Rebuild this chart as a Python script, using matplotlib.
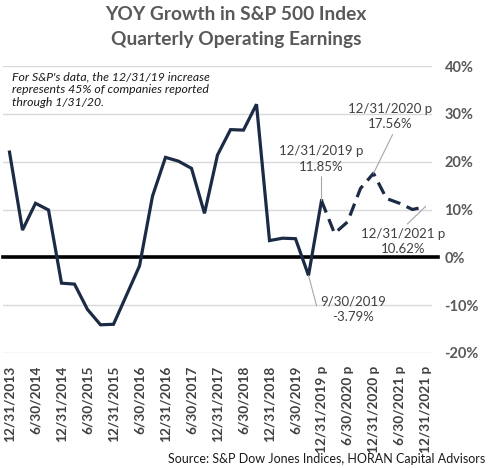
import matplotlib
matplotlib.use("Agg")
import matplotlib.pyplot as plt
import numpy as np

plt.rcParams['font.family'] = ['Lato', 'DejaVu Sans']

quarters = ["12/31/2013", "3/31/2014", "6/30/2014", "9/30/2014", "12/31/2014",
            "3/31/2015", "6/30/2015", "9/30/2015", "12/31/2015", "3/31/2016",
            "6/30/2016", "9/30/2016", "12/31/2016", "3/31/2017", "6/30/2017",
            "9/30/2017", "12/31/2017", "3/31/2018", "6/30/2018", "9/30/2018",
            "12/31/2018", "3/31/2019", "6/30/2019", "9/30/2019", "12/31/2019 p",
            "3/31/2020 p", "6/30/2020 p", "9/30/2020 p", "12/31/2020 p",
            "3/31/2021 p", "6/30/2021 p", "9/30/2021 p", "12/31/2021 p"]
growth = [22.0, 5.7, 11.3, 9.9, -5.4, -5.6, -10.9, -14.1, -14.0, -7.9, -1.8,
          12.8, 20.9, 20.1, 18.6, 9.2, 21.4, 26.7, 26.6, 32.0, 3.5, 4.0, 3.9,
          -3.79, 11.85, 5.0, 7.4, 14.4, 17.56, 12.3, 11.3, 10.0, 10.62]
n_actual = 25  # through 12/31/2019 p solid
yticks = [-20, -10, 0, 10, 20, 30, 40]
ytick_labels = ["-20%", "-10%", "0%", "10%", "20%", "30%", "40%"]
tick_idx = list(range(0, len(quarters), 2))

annot = [
    (24, "12/31/2019 p\n11.85%", (24.0, 20.6), (0.5, 0.0), "arc3"),
    (28, "12/31/2020 p\n17.56%", (29.3, 29.4), (0.55, 0.0), "arc3"),
    (32, "12/31/2021 p\n10.62%", (30.3, 3.3), (0.5, 1.0), "arc3"),
    (23, "9/30/2019\n-3.79%", (26.4, -10.8), (0.0, 0.5), "angle,angleA=0,angleB=105,rad=0"),
]

W, H = 495, 468
fig = plt.figure(figsize=(W / 100, H / 100), dpi=100)
ax = fig.add_axes([3 / W, (H - 353) / H, (432 - 3) / W, (353 - 66) / H])

x = np.arange(len(growth))
navy = "#1c2b45"
ax.plot(x[:n_actual], growth[:n_actual], color=navy, lw=2.3, solid_joinstyle='miter', zorder=4)
ax.plot(x[n_actual - 1:], growth[n_actual - 1:], color=navy, lw=2.3,
        dashes=(4.0, 2.2), zorder=4)

ax.set_xlim(-0.5, len(growth) - 0.5)
ax.set_ylim(-20, 40)
ax.set_yticks(yticks)
ax.set_yticklabels(ytick_labels)
ax.yaxis.tick_right()
ax.set_xticks(tick_idx)
ax.set_xticklabels([quarters[i] for i in tick_idx], rotation=90, va='top', ha='center')
ax.tick_params(axis='both', length=0)
ax.tick_params(axis='y', pad=9, labelsize=10.5, labelcolor="#595959")
ax.tick_params(axis='x', pad=9, labelsize=9.8, labelcolor="#404040")
for lab in ax.get_yticklabels():
    lab.set_fontweight('bold')
for lab in ax.get_xticklabels():
    lab.set_fontweight('bold')

for s in ax.spines.values():
    s.set_visible(False)
ax.grid(axis='y', color="#d9d9d9", lw=1.0, zorder=0)
ax.set_axisbelow(True)
ax.plot([-0.5, len(growth) - 0.05], [0, 0], color='black', lw=2.6, clip_on=False, zorder=3)

for idx, txt, pos, rel, cs in annot:
    ax.annotate(txt, xy=(idx, growth[idx]), xytext=pos, ha='center', va='center',
                fontsize=9.5, color="#404040", linespacing=1.35,
                arrowprops=dict(arrowstyle='-', color="#a6a6a6", lw=0.8,
                                shrinkA=1, shrinkB=0, relpos=rel, connectionstyle=cs),
                zorder=5)

fig.text(236 / W, 1 - 15 / H, "YOY Growth in S&P 500 Index", ha='center', va='center',
         fontsize=13.8, fontweight='bold', color="#595959")
fig.text(236 / W, 1 - 40 / H, "Quarterly Operating Earnings", ha='center', va='center',
         fontsize=13.8, fontweight='bold', color="#595959")
fig.text(12 / W, 1 - 71 / H,
         "For S&P's data, the 12/31/19 increase\nrepresents 45% of companies reported\nthrough 1/31/20.",
         ha='left', va='top', fontsize=8.8, style='italic', color="#1a1a1a", linespacing=1.25)
fig.text(485 / W, 1 - 459 / H, "Source: S&P Dow Jones Indices, HORAN Capital Advisors",
         ha='right', va='center', fontsize=9, color="#1a1a1a")

fig.savefig("out.png", dpi=100)
